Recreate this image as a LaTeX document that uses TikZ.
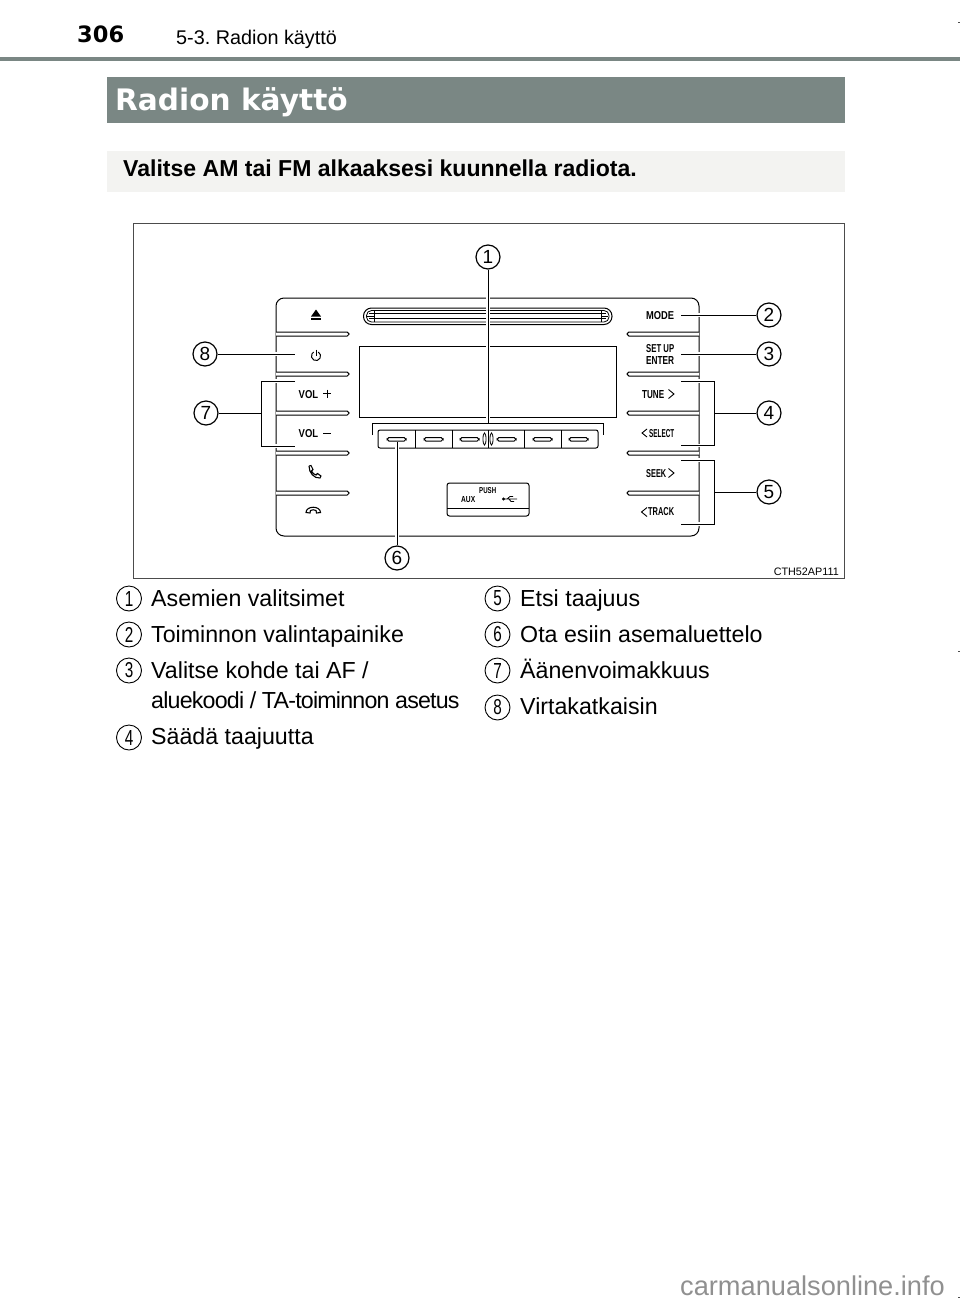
\documentclass[tikz,border=0pt]{standalone}
\usepackage{fontspec}
\setmainfont{Liberation Sans}
\newfontfamily\heavyfont{DejaVu Sans}
\newfontfamily\tightfont[LetterSpace=-3.4]{Liberation Sans}
\usetikzlibrary{positioning}
\definecolor{bandgray}{HTML}{7A8784}
\definecolor{palegray}{HTML}{F3F3F1}
\definecolor{markgray}{HTML}{909090}
\frenchspacing
\newcommand{\fsize}[1]{\fontsize{#1}{#1}\selectfont}
\newcommand{\pnl}[3]{\resizebox{#1pt}{#2pt}{\bfseries #3}}
\newcommand{\lst}[1]{\resizebox{8.5pt}{15pt}{#1}}
\tikzset{
	txt/.style={anchor=base west, inner sep=0pt, font=\fsize{23.2}},
	pnltxt/.style={anchor=base west, inner sep=0pt},
	call/.style={circle, draw=black, line width=1.2pt, minimum size=24pt, inner sep=0pt, font=\fsize{19}},
	numb/.style={circle, draw=black, line width=0.9pt, minimum size=25pt, inner sep=0pt},
	leader/.style={line width=0.9pt, preaction={draw=white, line width=3.5pt}},
	edge/.style={line width=1pt},
	bar/.style={line width=1pt, rounded corners=1.8pt},
	chev/.style={line width=0.9pt}
}
\begin{document}
\begin{tikzpicture}[x=1pt, y=-1pt]
	\useasboundingbox (0,0) rectangle (960,1304);
	% page head
	\fill[bandgray] (0,57) rectangle (960,61);
	\fill[bandgray] (107,77) rectangle (845,123);
	\fill[palegray] (107,151) rectangle (845,192);
	\node[anchor=base west, inner sep=0pt, font=\heavyfont\bfseries\fsize{22.5}](pagenr) at (77,42){306};
	\node[anchor=base west, inner sep=0pt, font=\fsize{19.8}](head) at (176,44){5-3. Radion käyttö};
	\node[anchor=base west, inner sep=0pt, text=white, font=\heavyfont\bfseries\fsize{29.6}](title) at (115,110){Radion käyttö};
	\node[anchor=base west, inner sep=0pt, font=\bfseries\fsize{23.05}](intro) at (123,176){Valitse AM tai FM alkaaksesi kuunnella radiota.};
	% frame and panel
	\draw[line width=1pt, black!70] (133,223) rectangle (844.5,578);
	\draw[edge, rounded corners=8pt] (276,298) rectangle (699,536);
	\foreach \y in {334,374,413,453,493}{
		\draw[bar, fill=white] (276,\y-2) -- (349,\y-2) -- (349,\y+2) -- (276,\y+2);
		\draw[bar, fill=white] (699,\y-2) -- (627,\y-2) -- (627,\y+2) -- (699,\y+2);
	}
	% disc slot
	\draw[edge, rounded corners=8pt] (363.5,308) rectangle (612,324.5);
	\draw[line width=0.8pt, rounded corners=5pt] (366.5,310.5) rectangle (609,322);
	\draw[line width=0.8pt] (369,313.5) -- (606,313.5) (369,318.5) -- (606,318.5);
	\draw[line width=0.8pt] (374,311) -- (374,321.5) (601,311) -- (601,321.5);
	\draw[line width=0.8pt] (367,316) -- (374,316) (601,316) -- (608,316);
	% display
	\draw[edge] (359,346) rectangle (616.5,417);
	\draw[edge] (372,435) -- (372,423) -- (603,423) -- (603,435);
	% preset buttons
	\draw[edge, rounded corners=2pt] (378,430) rectangle (598,448);
	\foreach \x in {415,452,488,524,561}{
		\draw[edge] (\x,430) -- (\x,448);
	}
	\foreach \x in {396.5,433.5,469.5,506.5,542.5,578.5}{
		\draw[bar] (\x-9.5,437.5) rectangle (\x+9.5,441);
	}
	\draw[line width=0.8pt, fill=white] (484.5,439) ellipse (1.5 and 6) (491.5,439) ellipse (1.5 and 6);
	% aux box
	\draw[edge, rounded corners=2.5pt] (447,483) rectangle (529,516);
	\draw[line width=0.9pt] (447,508) -- (529,508);
	\node[pnltxt](push) at (479,493){\pnl{17}{6}{PUSH}};
	\node[pnltxt](aux) at (461,502.5){\pnl{14}{6}{AUX}};
	\fill (503.5,499) circle (1.7);
	\draw[line width=0.8pt] (503,499) -- (517,499) (507,499) -- (510,496.5) -- (513,496.5) (509,499) -- (511,501.5) -- (514,501.5);
	% left column
	\fill (311,316.5) -- (316,309.5) -- (321,316.5) -- cycle;
	\fill (311,318) rectangle (321,320);
	\draw[line width=1pt] (318.3,352) arc (-60:240:4.6);
	\draw[line width=1pt] (316,349.5) -- (316,355.5);
	\node[pnltxt](volup) at (298.5,398){\pnl{19.5}{8}{VOL}};
	\node[pnltxt](voldn) at (298.5,437){\pnl{19.5}{8}{VOL}};
	\draw[chev] (323,393.5) -- (331,393.5) (327,389.5) -- (327,397.5);
	\draw[chev] (323,433) -- (331,433);
	\draw[line width=1.1pt] (309,466) -- (311,465.5) -- (313,469.5) -- (311.5,471) .. controls (312.5,473) and (314,474.5) .. (316,475) -- (317.5,473.5) -- (321,476) -- (320,478) .. controls (314,478.5) and (309,473) .. (309,466);
	\draw[line width=1.1pt] (306,512.5) .. controls (306,505.5) and (320.5,505.5) .. (320.5,512.5) -- (316.5,513) -- (316,510.5) .. controls (314,509.5) and (312.5,509.5) .. (310.5,510.5) -- (310,513) -- cycle;
	% right column
	\node[pnltxt](mode) at (646,319){\pnl{28}{8}{MODE}};
	\node[pnltxt](setup) at (646,352){\pnl{28}{8}{SET UP}};
	\node[pnltxt](enter) at (646,364){\pnl{28}{8}{ENTER}};
	\node[pnltxt](tune) at (642,398){\pnl{22}{8}{TUNE}};
	\node[pnltxt](select) at (649,437){\pnl{25}{8}{SELECT}};
	\node[pnltxt](seek) at (646,477){\pnl{20}{8}{SEEK}};
	\node[pnltxt](track) at (648,515.5){\pnl{26}{8}{TRACK}};
	\draw[chev] (668.5,389.5) -- (674,394) -- (668.5,398.5);
	\draw[chev] (647,429) -- (642,433) -- (647,437);
	\draw[chev] (668.5,468.5) -- (674,473) -- (668.5,477.5);
	\draw[chev] (647,507.5) -- (641.5,512) -- (647,516.5);
	% callouts
	\node[call](c1) at (488,257){1};
	\node[call](c2) at (769,315){2};
	\node[call](c3) at (769,354){3};
	\node[call](c4) at (769,413){4};
	\node[call](c5) at (769,492){5};
	\node[call](c6) at (397,558){6};
	\node[call](c7) at (206,413){7};
	\node[call](c8) at (205,354){8};
	\coordinate (e1) at (488,423);
	\coordinate (e2) at (681,315);
	\coordinate (e3) at (681,354);
	\coordinate (e6) at (397,441.5);
	\coordinate (e8) at (295,354);
	\coordinate (m4) at (714,413);
	\coordinate (m5) at (714,492);
	\coordinate (m7) at (261.5,413);
	\draw[leader] (c1) -- (e1);
	\draw[leader] (c2) -- (e2);
	\draw[leader] (c3) -- (e3);
	\draw[leader] (c6) -- (e6);
	\draw[leader] (c8) -- (e8);
	\draw[leader] (681,381) -- (714,381) -- (714,445.5) -- (681,445.5);
	\draw[line width=0.9pt] (c4) -- (m4);
	\draw[leader] (681,460) -- (714,460) -- (714,524) -- (681,524);
	\draw[line width=0.9pt] (c5) -- (m5);
	\draw[leader] (295,381) -- (261.5,381) -- (261.5,446) -- (295,446);
	\draw[line width=0.9pt] (c7) -- (m7);
	\node[anchor=base east, inner sep=0pt, font=\fsize{10.8}](code) at (839,575){CTH52AP111};
	% list
	\node[numb](n1) at (129,598.5){\lst{1}};
	\node[numb](n2) at (129,634.5){\lst{2}};
	\node[numb](n3) at (129,670.5){\lst{3}};
	\node[numb](n4) at (129,737.5){\lst{4}};
	\node[numb](n5) at (497.5,598.5){\lst{5}};
	\node[numb](n6) at (497.5,634.5){\lst{6}};
	\node[numb](n7) at (497.5,670.5){\lst{7}};
	\node[numb](n8) at (497.5,707.5){\lst{8}};
	\node[txt](t1) at (151,606){Asemien valitsimet};
	\node[txt](t2) at (151,642){Toiminnon valintapainike};
	\node[txt](t3) at (151,678){Valitse kohde tai AF /};
	\node[txt](t3b) at (151,708){\tightfont aluekoodi / TA-toiminnon asetus};
	\node[txt](t4) at (151,744){Säädä taajuutta};
	\node[txt](t5) at (520,606){Etsi taajuus};
	\node[txt](t6) at (520,642){Ota esiin asemaluettelo};
	\node[txt](t7) at (520,678){Äänenvoimakkuus};
	\node[txt](t8) at (520,714){Virtakatkaisin};
	% trim marks and site mark
	\fill[black!70] (958,21.5) rectangle (960,22.5);
	\fill[black!70] (958,650.5) rectangle (960,651.5);
	\fill[black!70] (958,1296.5) rectangle (960,1297.5);
	\node[anchor=base west, inner sep=0pt, text=markgray, font=\fsize{27.2}](site) at (680,1295){carmanualsonline.info};
\end{tikzpicture}
\end{document}
